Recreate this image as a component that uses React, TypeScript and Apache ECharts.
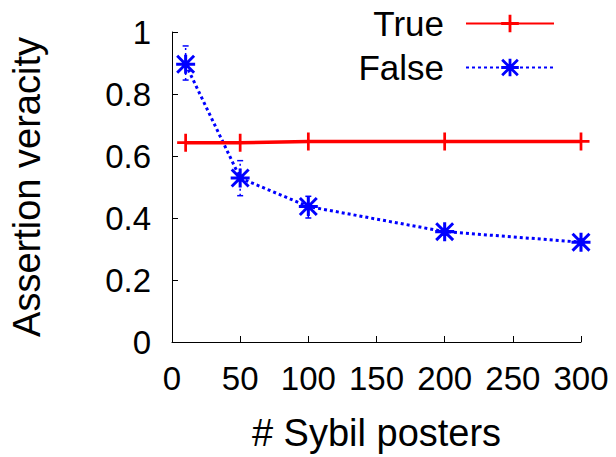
import React, { useEffect, useRef } from "react";
import * as echarts from "echarts";

const xValues = [10, 50, 100, 200, 300];
const trueValues = [0.643, 0.643, 0.647, 0.647, 0.647];
const falseValues = [0.896, 0.529, 0.437, 0.356, 0.322];
const falseLow = [0.845, 0.472, 0.4, 0.345, 0.312];
const falseHigh = [0.955, 0.585, 0.47, 0.365, 0.332];
const xTicks = { min: 0, max: 300, interval: 50 };
const yTicks = { min: 0, max: 1, interval: 0.2 };

const PLUS = "path://M0 42 L100 42 L100 58 L0 58 Z M42 0 L58 0 L58 100 L42 100 Z";
const STAR =
  "path://M0 42 L100 42 L100 58 L0 58 Z M42 0 L58 0 L58 100 L42 100 Z M11 0 L100 89 L89 100 L0 11 Z M89 0 L100 11 L11 100 L0 89 Z";

const FONT = "'Liberation Sans', Arial, Helvetica, sans-serif";

export default function App() {
  const ref = useRef<HTMLDivElement>(null);
  useEffect(() => {
    if (!ref.current) return;
    const chart = echarts.init(ref.current, null, { renderer: "svg" });
    const errData = xValues.map((x, i) => [x, falseLow[i], falseHigh[i]]);
    chart.setOption({
      animation: false,
      backgroundColor: "#ffffff",
      textStyle: { fontFamily: FONT },
      grid: { left: 172, right: 35, top: 32, bottom: 107 },
      legend: {
        orient: "vertical",
        align: "right",
        right: 56,
        top: 1,
        itemGap: 9,
        itemWidth: 88,
        itemHeight: 22,
        selectedMode: false,
        data: ["True", "False"],
        textStyle: {
          fontFamily: FONT,
          fontSize: 35,
          color: "#000",
          lineHeight: 35,
          padding: [0, 17, 0, 0],
        },
      },
      xAxis: {
        type: "value",
        min: xTicks.min,
        max: xTicks.max,
        interval: xTicks.interval,
        name: "# Sybil posters",
        nameLocation: "middle",
        nameGap: 72,
        nameTextStyle: { fontFamily: FONT, fontSize: 38, color: "#000" },
        axisLine: { show: true, onZero: false, lineStyle: { color: "#000", width: 1 } },
        axisTick: { show: true, inside: true, length: 6, lineStyle: { color: "#000" } },
        axisLabel: { fontFamily: FONT, fontSize: 33, color: "#000", margin: 20 },
        splitLine: { show: false },
      },
      yAxis: {
        type: "value",
        min: yTicks.min,
        max: yTicks.max,
        interval: yTicks.interval,
        name: "Assertion veracity",
        nameLocation: "middle",
        nameGap: 126,
        nameTextStyle: { fontFamily: FONT, fontSize: 38, color: "#000" },
        axisLine: { show: true, lineStyle: { color: "#000", width: 1 } },
        axisTick: { show: true, inside: true, length: 6, lineStyle: { color: "#000" } },
        axisLabel: { fontFamily: FONT, fontSize: 33, color: "#000", margin: 21 },
        splitLine: { show: false },
      },
      series: [
        {
          name: "False-err",
          type: "custom",
          z: 1,
          data: errData,
          encode: { x: 0, y: [1, 2] },
          renderItem: (params: any, api: any) => {
            const x = api.value(0);
            const lo = api.coord([x, api.value(1)]);
            const hi = api.coord([x, api.value(2)]);
            const st = { stroke: "#0000ff", lineWidth: 1.5, lineDash: [2, 3] };
            return {
              type: "group",
              children: [
                { type: "line", shape: { x1: lo[0], y1: lo[1], x2: hi[0], y2: hi[1] }, style: st },
                { type: "line", shape: { x1: hi[0] - 3, y1: hi[1], x2: hi[0] + 3, y2: hi[1] }, style: { stroke: "#0000ff", lineWidth: 1.5 } },
                { type: "line", shape: { x1: lo[0] - 3, y1: lo[1], x2: lo[0] + 3, y2: lo[1] }, style: { stroke: "#0000ff", lineWidth: 1.5 } },
              ],
            };
          },
        },
        {
          name: "True",
          type: "line",
          z: 3,
          data: xValues.map((x, i) => [x, trueValues[i]]),
          symbol: PLUS,
          symbolSize: [17, 18],
          showSymbol: true,
          color: "#ff0000",
          itemStyle: { color: "#ff0000" },
          lineStyle: { color: "#ff0000", width: 3.5, type: "solid" },
        },
        {
          name: "False",
          type: "line",
          z: 2,
          data: xValues.map((x, i) => [x, falseValues[i]]),
          symbol: STAR,
          symbolSize: 19,
          showSymbol: true,
          color: "#0000ff",
          itemStyle: { color: "#0000ff" },
          lineStyle: { color: "#0000ff", width: 3, type: [3, 3] },
        },
      ],
    });
    return () => chart.dispose();
  }, []);
  return (
    <div
      ref={ref}
      style={{ position: "fixed", left: 0, top: 0, width: 616, height: 457, background: "#fff" }}
    />
  );
}
